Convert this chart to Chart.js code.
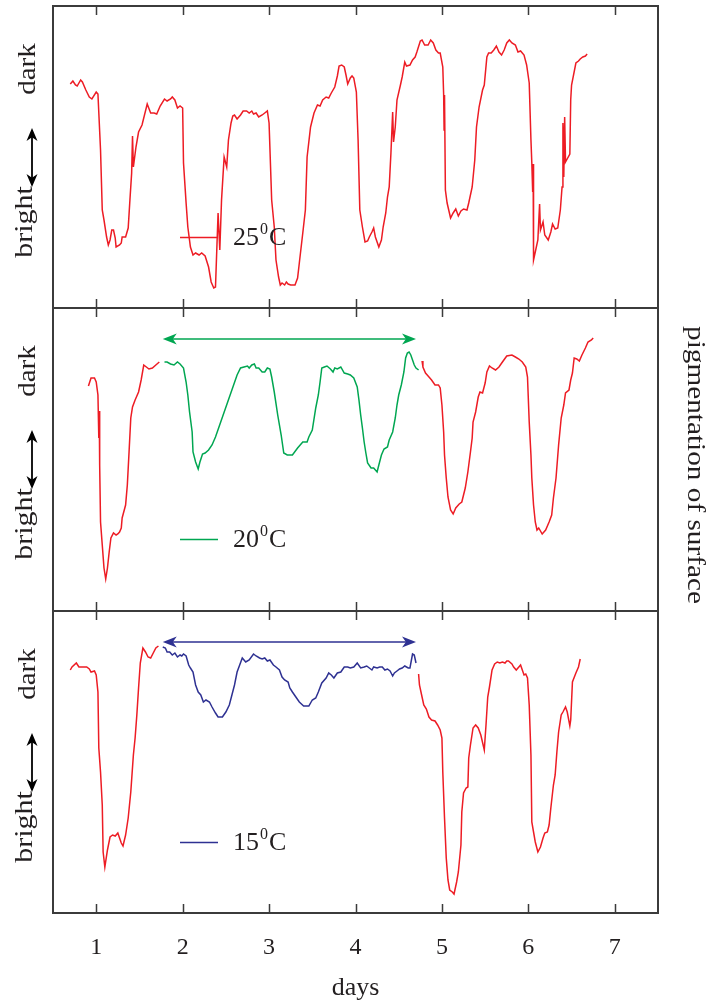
<!DOCTYPE html>
<html>
<head>
<meta charset="utf-8">
<script src="https://cdn.jsdelivr.net/npm/chart.js@4.4.1/dist/chart.umd.min.js"></script>
<style>
html,body{margin:0;padding:0;background:#ffffff;}
#wrap{position:relative;width:710px;height:1004px;overflow:hidden;}
#wrap canvas{position:absolute;left:0;top:0;}
</style>
</head>
<body>
<div id="wrap">
<canvas id="c25" width="710" height="1004"></canvas>
<canvas id="c20" width="710" height="1004"></canvas>
<canvas id="c15" width="710" height="1004"></canvas>
</div>
<script>
// ---------------- data (x: days, y: pigmentation, arbitrary units from panel bottom) ----------------
const tickDays = [1, 2, 3, 4, 5, 6, 7];
const legendTemps = ['25', '20', '15'];
const arrowSpanDays = [1.77, 4.70];
const arrowLevel20 = 272;
const arrowLevel15 = 271;

// 25 C panel (red)
const days25 = [
 0.70,0.73,0.76,0.78,0.82,0.84,0.88,0.92,0.95,1.00,
 1.02,1.05,1.07,1.09,1.12,1.14,1.16,1.18,1.20,1.22,
 1.23,1.27,1.29,1.30,1.34,1.37,1.39,1.41,1.42,1.43,
 1.46,1.49,1.53,1.59,1.63,1.67,1.70,1.74,1.79,1.82,
 1.86,1.88,1.91,1.94,1.97,2.00,2.01,2.04,2.06,2.09,
 2.12,2.15,2.19,2.22,2.26,2.30,2.33,2.36,2.38,2.41,
 2.43,2.45,2.48,2.51,2.53,2.56,2.58,2.60,2.63,2.67,
 2.70,2.74,2.77,2.80,2.82,2.85,2.88,2.92,2.95,2.98,
 3.00,3.03,3.06,3.08,3.11,3.13,3.15,3.18,3.20,3.22,
 3.25,3.30,3.33,3.35,3.39,3.42,3.44,3.48,3.52,3.56,
 3.59,3.62,3.66,3.69,3.72,3.76,3.79,3.81,3.84,3.87,
 3.89,3.91,3.94,3.96,3.98,4.01,4.03,4.05,4.08,4.11,
 4.14,4.16,4.19,4.21,4.23,4.27,4.30,4.32,4.35,4.37,
 4.39,4.41,4.43,4.44,4.46,4.48,4.52,4.54,4.57,4.59,
 4.63,4.66,4.69,4.71,4.75,4.77,4.80,4.84,4.87,4.90,
 4.93,4.96,4.98,5.01,5.02,5.025,5.03,5.04,5.06,5.10,
 5.13,5.16,5.19,5.22,5.25,5.29,5.31,5.35,5.38,5.40,
 5.43,5.47,5.49,5.52,5.54,5.57,5.60,5.63,5.66,5.69,
 5.72,5.75,5.78,5.81,5.85,5.88,5.91,5.95,5.98,6.01,
 6.03,6.04,6.05,6.055,6.06,6.08,6.11,6.13,6.14,6.17,
 6.19,6.23,6.26,6.28,6.31,6.34,6.37,6.39,6.40,6.41,
 6.42,6.43,6.48,6.49,6.50,6.55,6.58,6.60,6.63,6.66,
 6.68
];
const pig25 = [
 224,227,223,222,228,226,218,211,209,216,
 214,158,98,88,71,63,68,78,78,70,
 61,63,65,71,71,80,108,135,172,141,
 161,176,183,204,195,195,194,202,209,207,
 209,211,208,200,202,200,145,105,81,61,
 53,55,53,55,52,41,26,20,21,95,
 58,108,151,141,168,185,192,193,189,193,
 197,197,195,197,194,195,191,193,195,197,
 185,108,81,48,31,23,25,23,26,24,
 23,23,30,45,75,98,151,181,195,203,
 202,208,211,210,215,221,232,242,243,241,
 233,224,230,232,230,216,168,98,81,66,
 67,71,76,80,71,61,68,81,95,111,
 121,155,196,166,181,208,223,231,246,242,
 243,248,251,256,267,268,263,263,268,265,
 258,255,255,241,213,178,213,118,105,90,
 95,99,92,97,99,98,105,121,148,181,
 201,218,223,251,255,255,258,262,256,253,
 258,265,268,265,263,256,257,253,243,225,
 168,145,116,144,48,56,68,104,78,86,
 73,68,76,84,79,80,98,121,185,131,
 191,146,154,208,223,245,247,249,251,252,
 254
];

// 20 C panel
const days20RedA = [
 0.91,0.94,0.98,1.00,1.02,1.03,1.035,1.04,1.05,1.07,
 1.09,1.11,1.13,1.15,1.17,1.20,1.23,1.25,1.27,1.29,
 1.30,1.34,1.36,1.38,1.40,1.42,1.45,1.49,1.52,1.55,
 1.58,1.61,1.65,1.69,1.73
];
const pig20RedA = [
 225,233,233,229,216,173,200,146,89,66,
 43,32,43,59,73,78,76,77,79,83,
 93,106,126,159,193,204,211,219,231,246,
 244,242,243,246,249
];
const days20Green = [
 1.79,1.82,1.86,1.90,1.94,1.97,2.01,2.04,2.06,2.08,
 2.11,2.12,2.15,2.18,2.20,2.23,2.26,2.30,2.34,2.38,
 2.63,2.67,2.71,2.75,2.77,2.80,2.83,2.85,2.88,2.92,
 2.95,2.98,3.01,3.03,3.06,3.10,3.14,3.17,3.21,3.27,
 3.33,3.39,3.44,3.46,3.50,3.54,3.57,3.59,3.61,3.64,
 3.67,3.71,3.74,3.76,3.79,3.83,3.87,3.91,3.94,3.98,
 4.02,4.04,4.06,4.08,4.10,4.12,4.14,4.18,4.21,4.25,
 4.27,4.30,4.33,4.37,4.39,4.43,4.46,4.48,4.50,4.53,
 4.56,4.58,4.60,4.62,4.64,4.66,4.68,4.70,4.73
];
const pig20Green = [
 249,249,247,246,249,247,243,229,216,199,
 179,159,149,142,149,157,158,161,166,174,
 236,243,244,245,243,246,247,243,243,239,
 239,243,242,234,219,196,176,158,156,156,
 163,169,169,174,181,203,216,229,243,244,
 245,242,239,243,242,244,238,237,236,233,
 224,211,196,183,169,158,148,143,143,139,
 146,156,162,164,171,179,193,206,216,226,
 239,253,258,259,256,251,246,243,241
];
const days20RedB = [
 4.77,4.78,4.81,4.84,4.88,4.92,4.96,4.98,5.00,5.02,
 5.03,5.05,5.07,5.10,5.13,5.16,5.20,5.23,5.27,5.30,
 5.33,5.35,5.36,5.39,5.42,5.44,5.47,5.50,5.52,5.55,
 5.58,5.62,5.66,5.70,5.75,5.81,5.85,5.89,5.93,5.97,
 5.99,6.01,6.03,6.04,6.06,6.08,6.10,6.12,6.16,6.20,
 6.24,6.27,6.29,6.32,6.35,6.38,6.41,6.43,6.47,6.49,
 6.51,6.53,6.56,6.59,6.62,6.66,6.69,6.73,6.75
];
const pig20RedB = [
 250,244,238,235,231,226,226,223,206,179,
 156,133,114,101,97,103,107,109,123,139,
 159,173,189,199,214,219,218,228,239,245,
 243,241,244,249,255,256,254,252,249,244,
 234,189,156,133,106,89,81,83,77,81,
 89,96,113,133,166,193,206,218,221,231,
 238,253,252,250,256,263,269,271,273
];

// 15 C panel
const days15RedA = [
 0.70,0.72,0.77,0.80,0.84,0.89,0.92,0.94,0.98,1.00,
 1.02,1.03,1.05,1.07,1.08,1.10,1.13,1.16,1.19,1.22,
 1.25,1.27,1.29,1.31,1.34,1.37,1.40,1.43,1.45,1.47,
 1.49,1.51,1.54,1.57,1.60,1.63,1.66,1.69,1.72
];
const pig15RedA = [
 243,246,250,246,246,246,244,241,242,238,
 221,165,141,108,61,46,63,76,78,77,
 80,75,70,67,78,95,121,158,175,198,
 225,250,265,261,256,255,260,265,267
];
const days15Blue = [
 1.77,1.80,1.82,1.85,1.88,1.91,1.94,1.97,1.99,2.01,
 2.04,2.07,2.09,2.12,2.15,2.18,2.21,2.24,2.27,2.31,
 2.34,2.38,2.41,2.46,2.50,2.54,2.57,2.60,2.63,2.66,
 2.69,2.73,2.77,2.82,2.85,2.89,2.92,2.95,2.98,3.01,
 3.05,3.08,3.12,3.15,3.18,3.22,3.24,3.27,3.31,3.35,
 3.40,3.46,3.50,3.54,3.57,3.61,3.66,3.69,3.72,3.75,
 3.79,3.83,3.87,3.91,3.94,3.98,4.02,4.06,4.10,4.13,
 4.16,4.19,4.21,4.25,4.28,4.31,4.34,4.37,4.40,4.43,
 4.45,4.48,4.51,4.54,4.57,4.61,4.63,4.66,4.68,4.70
];
const pig15Blue = [
 266,265,261,261,258,260,256,258,257,259,
 257,248,245,241,228,221,218,211,213,211,
 206,200,196,196,201,208,218,228,241,248,
 255,251,253,259,257,255,254,255,252,253,
 248,246,243,236,233,231,225,221,216,211,
 207,207,213,215,221,230,235,240,238,235,
 240,241,246,246,245,246,250,245,246,247,
 245,243,246,245,246,246,243,244,242,237,
 240,242,244,245,247,245,245,259,258,250
];
const days15RedB = [
 4.73,4.74,4.77,4.79,4.82,4.85,4.88,4.92,4.95,4.98,
 5.00,5.01,5.03,5.05,5.07,5.09,5.12,5.14,5.17,5.19,
 5.22,5.23,5.25,5.28,5.30,5.31,5.33,5.36,5.39,5.42,
 5.45,5.49,5.51,5.53,5.55,5.58,5.61,5.64,5.67,5.70,
 5.73,5.75,5.77,5.81,5.83,5.86,5.88,5.91,5.93,5.95,
 5.97,5.99,6.01,6.03,6.04,6.06,6.08,6.11,6.14,6.17,
 6.19,6.22,6.24,6.26,6.29,6.31,6.33,6.35,6.38,6.40,
 6.43,6.45,6.48,6.49,6.51,6.55,6.58,6.60
];
const pig15RedB = [
 239,228,216,208,204,196,193,192,188,183,
 175,141,95,55,33,23,21,19,31,41,
 68,101,120,125,126,155,168,185,188,185,
 178,163,188,216,226,243,249,251,250,251,
 250,252,252,249,246,243,245,248,243,238,
 239,235,208,158,91,81,71,61,66,75,
 80,81,88,105,128,138,161,181,198,201,
 206,201,187,193,231,240,246,254
];

// ---------------- styling / layout ----------------
const RED = '#ed1c24', GREEN = '#00a651', BLUE = '#2e3192';
const INK = '#231f20', FRAME = '#3b3b3b';
const SERIF = '"Liberation Serif", "Times New Roman", serif';
const PANEL_TOP = [6, 308, 611];
const PANEL_BOTTOM = [308, 611, 913];
const PANEL_MAX = [302, 303, 302];

function pts(xs, ys) { return xs.map((d, i) => ({x: d, y: ys[i]})); }
function ds(xs, ys, color) {
  return {data: pts(xs, ys), borderColor: color, backgroundColor: color, borderWidth: 1.5,
          pointRadius: 0, tension: 0, fill: false};
}

function rotText(ctx, txt, x, y, ang, size, stretch) {
  ctx.save();
  ctx.translate(x, y);
  ctx.rotate(ang);
  ctx.scale(stretch, 1);
  ctx.font = size + 'px ' + SERIF;
  ctx.fillStyle = INK;
  ctx.textAlign = 'center';
  ctx.textBaseline = 'alphabetic';
  ctx.fillText(txt, 0, 0);
  ctx.restore();
}

function arrowHead(ctx, tx, ty, dx, dy, len, half) {
  const px = -dy, py = dx;
  ctx.beginPath();
  ctx.moveTo(tx, ty);
  ctx.lineTo(tx + dx * len + px * half, ty + dy * len + py * half);
  ctx.lineTo(tx + dx * len * 0.72, ty + dy * len * 0.72);
  ctx.lineTo(tx + dx * len - px * half, ty + dy * len - py * half);
  ctx.closePath();
  ctx.fill();
}

const panelDeco = {
  id: 'panelDeco',
  afterDatasetsDraw(chart, args, opts) {
    const {ctx, chartArea: a, scales} = chart;
    const xs = scales.x, ys = scales.y;
    ctx.save();
    if (opts.span) {
      const x0 = xs.getPixelForValue(arrowSpanDays[0]);
      const x1 = xs.getPixelForValue(arrowSpanDays[1]);
      const yy = ys.getPixelForValue(opts.span.level);
      ctx.strokeStyle = opts.span.color; ctx.fillStyle = opts.span.color; ctx.lineWidth = 1.6;
      ctx.beginPath(); ctx.moveTo(x0 + 8, yy); ctx.lineTo(x1 - 8, yy); ctx.stroke();
      arrowHead(ctx, x0, yy, 1, 0, 14, 5.5);
      arrowHead(ctx, x1, yy, -1, 0, 14, 5.5);
    }
    const lgx = a.left + 127, lgy = a.top + 231.5;
    ctx.strokeStyle = opts.color; ctx.lineWidth = 1.5;
    ctx.beginPath(); ctx.moveTo(lgx, lgy); ctx.lineTo(lgx + 38, lgy); ctx.stroke();
    ctx.fillStyle = INK; ctx.textAlign = 'left'; ctx.textBaseline = 'alphabetic';
    let tx = a.left + 180;
    ctx.font = '26px ' + SERIF;
    ctx.fillText(opts.temp, tx, a.top + 239);
    tx += ctx.measureText(opts.temp).width + 1;
    ctx.font = '16px ' + SERIF;
    ctx.fillText('0', tx, a.top + 228);
    tx += ctx.measureText('0').width + 1;
    ctx.font = '26px ' + SERIF;
    ctx.fillText('C', tx, a.top + 239);
    ctx.strokeStyle = FRAME; ctx.lineWidth = 2;
    ctx.strokeRect(a.left, a.top, a.right - a.left, a.bottom - a.top);
    ctx.lineWidth = 1.5;
    ctx.beginPath();
    tickDays.forEach(d => {
      const px = Math.round(xs.getPixelForValue(d)) + 0.5;
      ctx.moveTo(px, a.top); ctx.lineTo(px, a.top + 9);
      ctx.moveTo(px, a.bottom); ctx.lineTo(px, a.bottom - 9);
    });
    ctx.stroke();
    rotText(ctx, 'dark', 35, a.top + 63, -Math.PI / 2, 26, 1.12);
    rotText(ctx, 'bright', 32, a.top + 216, -Math.PI / 2, 26, 1.15);
    ctx.strokeStyle = '#000'; ctx.fillStyle = '#000'; ctx.lineWidth = 1.8;
    const ax = 32, ay0 = a.top + 122, ay1 = a.top + 181;
    ctx.beginPath(); ctx.moveTo(ax, ay0 + 8); ctx.lineTo(ax, ay1 - 8); ctx.stroke();
    arrowHead(ctx, ax, ay0, 0, 1, 13, 5.5);
    arrowHead(ctx, ax, ay1, 0, -1, 13, 5.5);
    if (opts.rightLabel) {
      rotText(ctx, 'pigmentation of surface', 688, 465, Math.PI / 2, 25, 1.17);
    }
    ctx.restore();
  }
};

function makeChart(id, datasets, idx, deco) {
  const showX = idx === 2;
  const xScale = {
    type: 'linear', min: 0.5, max: 7.5, display: showX,
    grid: {display: false, drawTicks: false},
    border: {display: false},
    afterBuildTicks: s => { s.ticks = tickDays.map(v => ({value: v})); },
    ticks: {font: {family: SERIF, size: 24}, color: INK, padding: 20, maxRotation: 0},
    title: {display: true, text: 'days', font: {family: SERIF, size: 26}, color: INK,
            padding: {top: 0, bottom: 0}}
  };
  if (showX) { xScale.afterFit = s => { s.height = 1004 - PANEL_BOTTOM[idx]; }; }
  return new Chart(document.getElementById(id), {
    type: 'line',
    data: {datasets},
    options: {
      responsive: false,
      animation: false,
      events: [],
      layout: {padding: {left: 53, right: 52, top: PANEL_TOP[idx], bottom: showX ? 0 : 1004 - PANEL_BOTTOM[idx]}},
      plugins: {legend: {display: false}, tooltip: {enabled: false}, panelDeco: deco},
      scales: {
        x: xScale,
        y: {type: 'linear', min: 0, max: PANEL_MAX[idx], display: false}
      }
    },
    plugins: [panelDeco]
  });
}

makeChart('c25', [ds(days25, pig25, RED)], 0,
  {color: RED, temp: legendTemps[0]});
makeChart('c20', [ds(days20RedA, pig20RedA, RED), ds(days20Green, pig20Green, GREEN), ds(days20RedB, pig20RedB, RED)], 1,
  {color: GREEN, temp: legendTemps[1], span: {color: GREEN, level: arrowLevel20}, rightLabel: true});
makeChart('c15', [ds(days15RedA, pig15RedA, RED), ds(days15Blue, pig15Blue, BLUE), ds(days15RedB, pig15RedB, RED)], 2,
  {color: BLUE, temp: legendTemps[2], span: {color: BLUE, level: arrowLevel15}});
</script>
</body>
</html>
